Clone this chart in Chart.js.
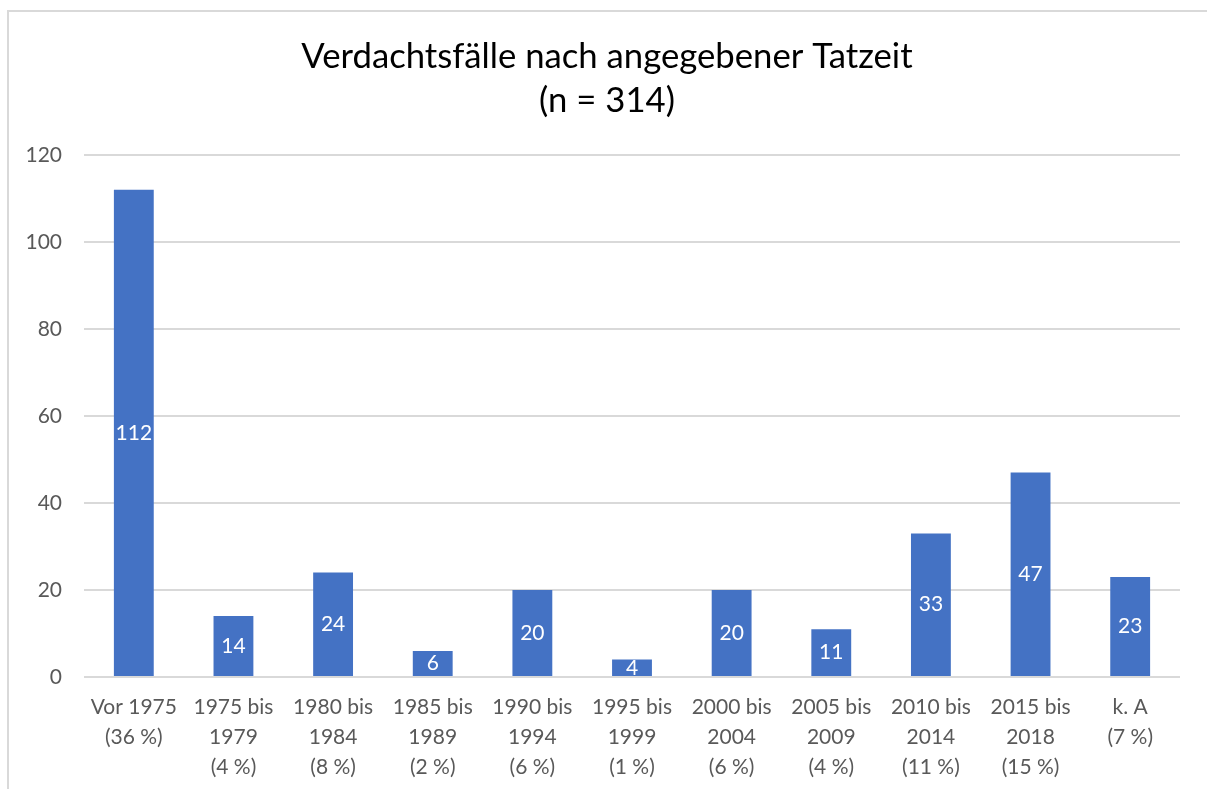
<!DOCTYPE html>
<html>
<head>
<meta charset="utf-8">
<script src="https://cdn.jsdelivr.net/npm/chart.js@4/dist/chart.umd.min.js"></script>
<style>
    html, body { margin: 0; padding: 0; background: #fff; overflow: hidden; }
    #frame { position: absolute; left: 7px; top: 10px; width: 1220px; height: 800px; border: 2px solid #d9d9d9; box-sizing: border-box; }
    #wrap { position: absolute; left: 0; top: 0; width: 1207px; height: 789px; }
</style>
</head>
<body>
<div id="frame"></div>
<div id="wrap"><canvas id="tatzeitChart"></canvas></div>
<script>
const titleLines = ['Verdachtsfälle nach angegebener Tatzeit', '(n = 314)'];

const categories = [
    ['Vor 1975', '(36 %)'],
    ['1975 bis', '1979', '(4 %)'],
    ['1980 bis', '1984', '(8 %)'],
    ['1985 bis', '1989', '(2 %)'],
    ['1990 bis', '1994', '(6 %)'],
    ['1995 bis', '1999', '(1 %)'],
    ['2000 bis', '2004', '(6 %)'],
    ['2005 bis', '2009', '(4 %)'],
    ['2010 bis', '2014', '(11 %)'],
    ['2015 bis', '2018', '(15 %)'],
    ['k. A', '(7 %)']
];

const faelle = [112, 14, 24, 6, 20, 4, 20, 11, 33, 47, 23];

const yTicks = [0, 20, 40, 60, 80, 100, 120];

const FONT = 'Lato, "Open Sans", sans-serif';

// Titel ueber die ganze Breite zentriert
const pageTitle = {
    id: 'pageTitle',
    afterDraw(chart) {
        const ctx = chart.ctx;
        ctx.save();
        ctx.fillStyle = '#000000';
        ctx.font = '34.7px ' + FONT;
        ctx.textAlign = 'center';
        ctx.textBaseline = 'middle';
        ctx.fillText(titleLines[0], 607, 57);
        ctx.fillText(titleLines[1], 607, 101);
        ctx.restore();
    }
};

// Werte mittig in die Balken schreiben (wie Excel "Zentriert")
const centerLabels = {
    id: 'centerLabels',
    afterDatasetsDraw(chart) {
        const ctx = chart.ctx;
        const meta = chart.getDatasetMeta(0);
        ctx.save();
        ctx.fillStyle = '#ffffff';
        ctx.font = '21px ' + FONT;
        ctx.textAlign = 'center';
        ctx.textBaseline = 'middle';
        meta.data.forEach((bar, i) => {
            const y = (bar.y + bar.base) / 2;
            ctx.fillText(String(faelle[i]), bar.x, y);
        });
        ctx.restore();
    }
};

const ctx = document.getElementById('tatzeitChart').getContext('2d');
const tatzeitChart = new Chart(ctx, {
    type: 'bar',
    data: {
        labels: categories,
        datasets: [{
            label: 'Verdachtsfälle',
            data: faelle,
            backgroundColor: '#4472c4',
            borderWidth: 0,
            barPercentage: 0.4,
            categoryPercentage: 1.0
        }]
    },
    options: {
        responsive: true,
        maintainAspectRatio: false,
        animation: false,
        layout: {
            padding: { left: 0, right: 27, top: 155, bottom: 0 }
        },
        plugins: {
            legend: { display: false },
            tooltip: { enabled: false },
            title: { display: false }
        },
        scales: {
            x: {
                grid: { display: false, drawTicks: false },
                border: { display: false },
                ticks: {
                    color: '#595959',
                    font: { family: FONT, size: 21, lineHeight: 1.43 },
                    padding: 15,
                    maxRotation: 0,
                    autoSkip: false
                },
                afterFit(scale) { scale.height = 112; }
            },
            y: {
                min: 0,
                max: 120,
                afterBuildTicks(scale) {
                    scale.ticks = yTicks.map(v => ({ value: v }));
                },
                grid: { color: '#d9d9d9', lineWidth: 2, drawTicks: false },
                border: { display: false },
                ticks: {
                    color: '#595959',
                    font: { family: FONT, size: 21 },
                    padding: 22
                },
                afterFit(scale) { scale.width = 84; }
            }
        }
    },
    plugins: [centerLabels, pageTitle]
});
</script>
</body>
</html>
